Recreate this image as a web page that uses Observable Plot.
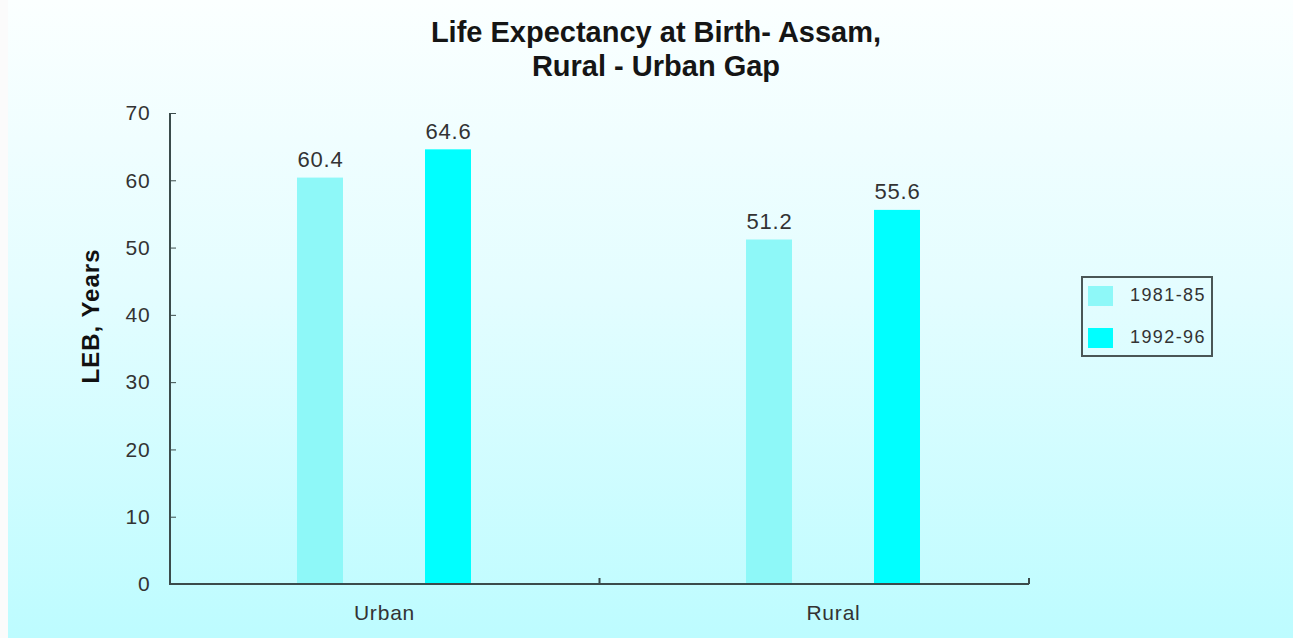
<!DOCTYPE html>
<html>
<head>
<meta charset="utf-8">
<script src="https://cdn.jsdelivr.net/npm/d3@7"></script>
<script src="https://cdn.jsdelivr.net/npm/@observablehq/plot@0.6"></script>
<style>
  html, body { margin: 0; padding: 0; background: #fbfbfb; }
  body { width: 1293px; height: 638px; overflow: hidden; font-family: "Liberation Sans", Arial, sans-serif; }
  #wrap { position: relative; width: 1293px; height: 638px; }
  #bg { position: absolute; left: 8px; top: 0; width: 1285px; height: 638px;
    background: linear-gradient(to bottom, #fbffff 0%, #e4fdff 45%, #bdfcff 100%); }
  #title { position: absolute; left: 356px; width: 600px; top: 15px; text-align: center;
    font-weight: bold; font-size: 29px; line-height: 34px; color: #151515; }
  #ylabel { position: absolute; left: 91px; top: 316px; transform: translate(-50%, -50%) rotate(-90deg);
    white-space: nowrap; font-weight: bold; font-size: 24px; letter-spacing: 1px; color: #111; }
  #legend { position: absolute; left: 1081px; top: 276px; width: 128px; height: 77px;
    border: 2px solid #4a5656; font-size: 18px; letter-spacing: 1.4px; color: #333; }
  .item { position: absolute; left: 5px; display: flex; align-items: center; }
  .sw { width: 25px; height: 20px; margin-right: 17px; }
  #chart { position: absolute; left: 0; top: 0; }
  #chart svg text { letter-spacing: 0.8px; }
</style>
</head>
<body>
<div id="wrap">
  <div id="bg"></div>
  <div id="chart"></div>
  <div id="title"></div>
  <div id="ylabel"></div>
  <div id="legend"></div>
</div>
<script>
const titleLines = ["Life Expectancy at Birth- Assam,", "Rural - Urban Gap"];
const categories = ["Urban", "Rural"];
const periods = ["1981-85", "1992-96"];
const values1981 = [60.4, 51.2];
const values1992 = [64.6, 55.6];
const periodColors = ["#8ef8f8", "#00ffff"];
const yTicks = [0, 10, 20, 30, 40, 50, 60, 70];
const yLabel = "LEB, Years";

const data = [];
categories.forEach((c, i) => {
  data.push({category: c, period: periods[0], value: values1981[i]});
  data.push({category: c, period: periods[1], value: values1992[i]});
});

document.getElementById("title").innerHTML = titleLines.join("<br>");
document.getElementById("ylabel").textContent = yLabel;

const axisColor = "#3b4b4b";
const plot = Plot.plot({
  width: 1293,
  height: 638,
  marginTop: 113,
  marginBottom: 54,
  marginLeft: 170,
  marginRight: 264,
  style: {background: "transparent", fontFamily: "Liberation Sans, Arial, sans-serif", color: "#333"},
  fx: {domain: categories, paddingInner: 0.0869, paddingOuter: 0, label: null},
  x: {domain: periods, paddingInner: 0.638, paddingOuter: 0.914, align: 0.537, axis: null},
  y: {domain: [0, 70], label: null},
  color: {domain: periods, range: periodColors},
  marks: [
    Plot.barY(data, {fx: "category", x: "period", y: "value", fill: "period"}),
    Plot.text(data, {fx: "category", x: "period", y: "value", text: d => d.value.toFixed(1),
      lineAnchor: "bottom", dy: -11, fontSize: 22, fill: "#333"}),
    Plot.axisY({ticks: yTicks, tickSize: -6, tickPadding: 26, fontSize: 21, label: null, stroke: axisColor, color: "#333"}),
    Plot.axisFx({anchor: "bottom", tickSize: 0, tickPadding: 21, dx: 9, fontSize: 21, label: null, color: "#333"})
  ]
});
document.getElementById("chart").appendChild(plot);

// axis lines and category boundary ticks derived from the scales
const y = plot.scale("y");
const fx = plot.scale("fx");
const svg = d3.select(plot);
const g = svg.append("g").attr("stroke", axisColor).attr("stroke-width", 2);
const x0 = fx.apply(categories[0]);
const xe = fx.apply(categories[categories.length - 1]) + fx.bandwidth;
const y0 = y.apply(0);
g.append("line").attr("x1", x0).attr("x2", x0).attr("y1", y.apply(70)).attr("y2", y0 + 1);
g.append("line").attr("x1", x0).attr("x2", xe).attr("y1", y0).attr("y2", y0);
for (let i = 1; i < categories.length; i++) {
  const xb = (fx.apply(categories[i - 1]) + fx.bandwidth + fx.apply(categories[i])) / 2;
  g.append("line").attr("x1", xb).attr("x2", xb).attr("y1", y0).attr("y2", y0 - 6);
}
g.append("line").attr("x1", xe).attr("x2", xe).attr("y1", y0).attr("y2", y0 - 6);

// legend
const leg = document.getElementById("legend");
periods.forEach((p, i) => {
  const it = document.createElement("div");
  it.className = "item";
  it.style.top = (i === 0 ? 7 : 49) + "px";
  it.innerHTML = `<div class="sw" style="background:${plot.scale("color").apply(p)}"></div><span>${p}</span>`;
  leg.appendChild(it);
});
</script>
</body>
</html>
